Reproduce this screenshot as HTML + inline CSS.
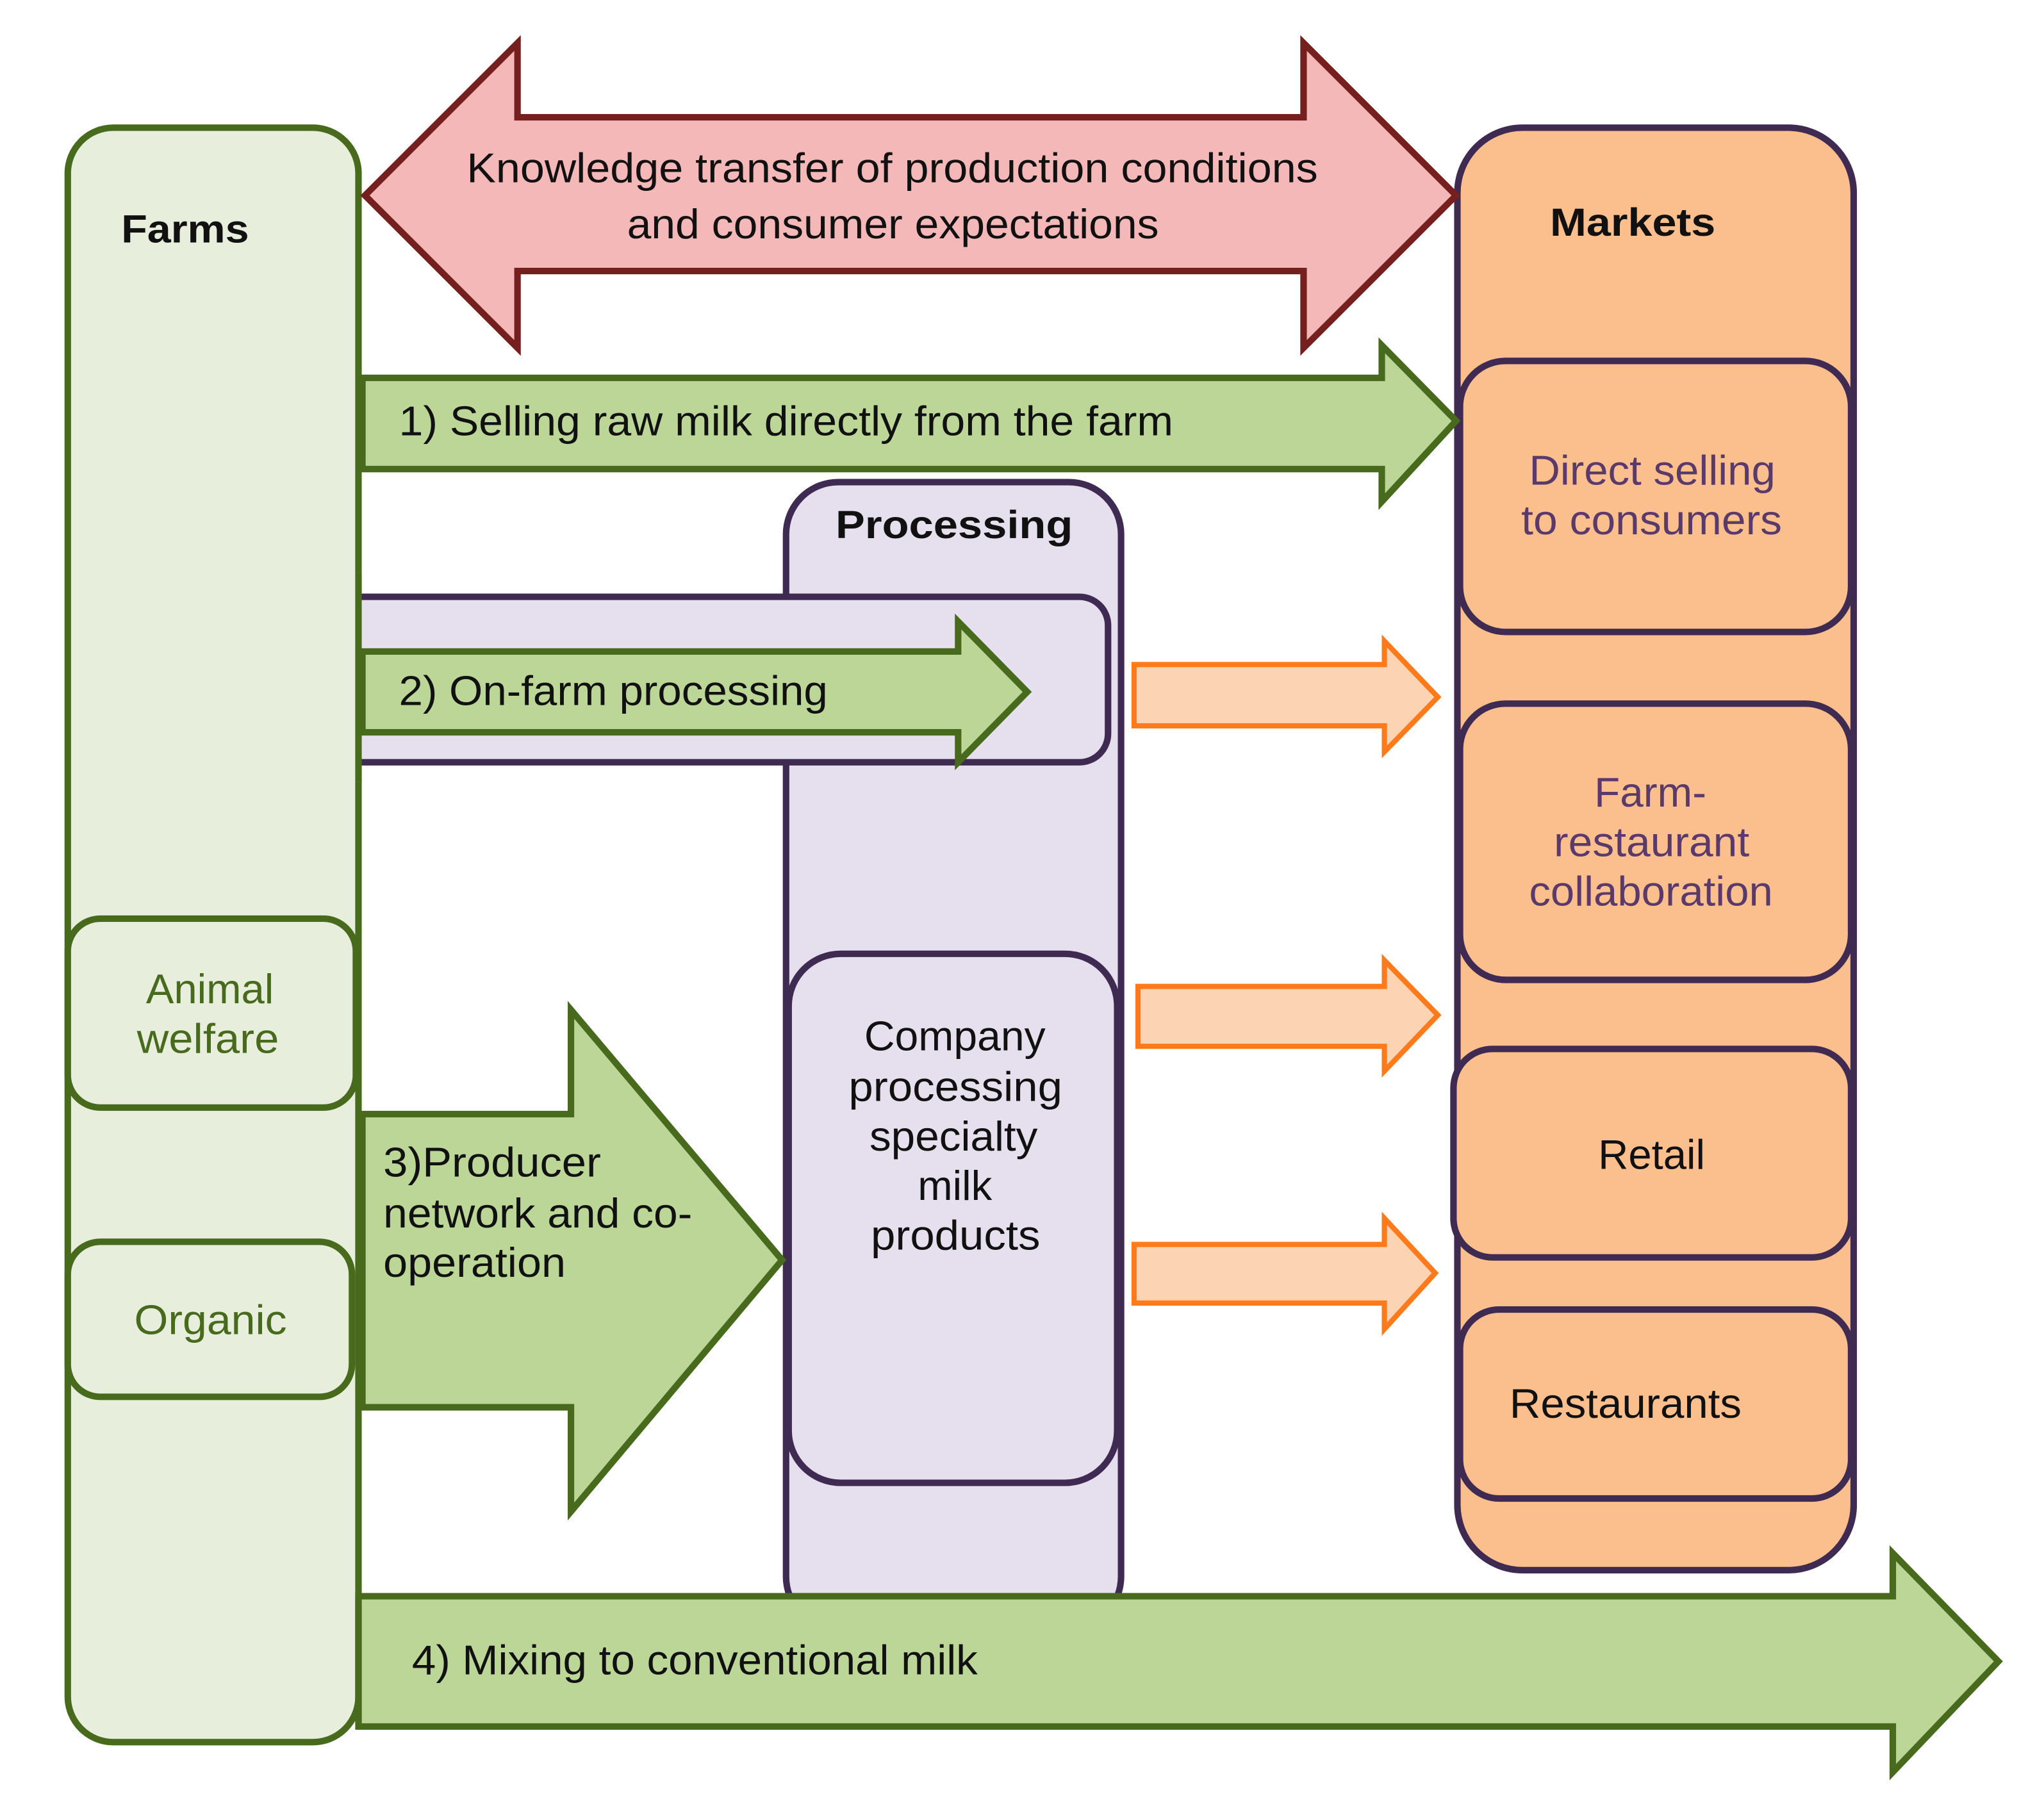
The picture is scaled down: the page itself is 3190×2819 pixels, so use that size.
<!DOCTYPE html>
<html><head><meta charset="utf-8"><style>
html,body{margin:0;padding:0;background:#fff;}
svg{display:block;}
text{font-family:"Liberation Sans",sans-serif;}
</style></head><body>
<svg width="3190" height="2819" viewBox="0 0 1568 1386" preserveAspectRatio="none" xmlns="http://www.w3.org/2000/svg">
<rect x="0" y="0" width="1568" height="1386" fill="#fff"/>
<rect x="52" y="98" width="223" height="1239" rx="35" fill="#e8eedc" stroke="#476a1c" stroke-width="5"/>
<rect x="52" y="705" width="221" height="145" rx="25" fill="#e8eedc" stroke="#476a1c" stroke-width="5"/>
<rect x="52" y="953" width="218" height="119" rx="25" fill="#e8eedc" stroke="#476a1c" stroke-width="5"/>
<rect x="1118" y="98" width="304" height="1107" rx="50" fill="#fbbf8e" stroke="#3f2a52" stroke-width="5"/>
<rect x="1120" y="277" width="300" height="208" rx="35" fill="#fbbf8e" stroke="#3f2a52" stroke-width="5"/>
<rect x="1120" y="540" width="300" height="212" rx="35" fill="#fbbf8e" stroke="#3f2a52" stroke-width="5"/>
<rect x="1115" y="805" width="305" height="160" rx="30" fill="#fbbf8e" stroke="#3f2a52" stroke-width="5"/>
<rect x="1120" y="1005" width="300" height="145" rx="30" fill="#fbbf8e" stroke="#3f2a52" stroke-width="5"/>
<rect x="603" y="370" width="257" height="880" rx="40" fill="#e6dfed" stroke="#3f2a52" stroke-width="5"/>
<rect x="250" y="458" width="600" height="127" rx="22" fill="#e6dfed" stroke="#3f2a52" stroke-width="5"/>
<rect x="605" y="732" width="252" height="406" rx="40" fill="#e6dfed" stroke="#3f2a52" stroke-width="5"/>
<rect x="240" y="440" width="36" height="160" fill="#e8eedc"/>
<line x1="275" y1="440" x2="275" y2="600" stroke="#476a1c" stroke-width="5"/>
<polygon points="280,150 397,33 397,90 1000,90 1000,33 1117,150 1000,267 1000,208 397,208 397,267" fill="#f5b8b8" stroke="#761f1f" stroke-width="5"/>
<polygon points="278,290 1060,290 1060,265 1117,323 1060,385 1060,360 278,360" fill="#bcd698" stroke="#476a1c" stroke-width="5"/>
<polygon points="278,500 735,500 735,477 788,531 735,585 735,562 278,562" fill="#bcd698" stroke="#476a1c" stroke-width="5"/>
<polygon points="278,855 438,855 438,775 600,967 438,1160 438,1080 278,1080" fill="#bcd698" stroke="#476a1c" stroke-width="5"/>
<polygon points="870,510 1062,510 1062,492 1103,535 1062,577 1062,557 870,557" fill="#fdd4b3" stroke="#ff7a1a" stroke-width="4"/>
<polygon points="873,757 1062,757 1062,737 1103,779 1062,822 1062,803 873,803" fill="#fdd4b3" stroke="#ff7a1a" stroke-width="4"/>
<polygon points="870,955 1062,955 1062,935 1101,977 1062,1020 1062,1000 870,1000" fill="#fdd4b3" stroke="#ff7a1a" stroke-width="4"/>
<polygon points="275,1225 1452,1225 1452,1192 1533,1275 1452,1360 1452,1325 275,1325" fill="#bcd698" stroke="#476a1c" stroke-width="5"/>
<line x1="275" y1="1228" x2="275" y2="1322" stroke="#476a1c" stroke-width="5"/>
<g font-size="32" fill="#111" lengthAdjust="spacingAndGlyphs">
<text x="358" y="140" textLength="653" lengthAdjust="spacingAndGlyphs">Knowledge transfer of production conditions</text>
<text x="481" y="183" textLength="408" lengthAdjust="spacingAndGlyphs">and consumer expectations</text>
<text x="306" y="334" textLength="594" lengthAdjust="spacingAndGlyphs">1) Selling raw milk directly from the farm</text>
<text x="306" y="541" textLength="329" lengthAdjust="spacingAndGlyphs">2) On-farm processing</text>
<text x="294" y="903" textLength="167" lengthAdjust="spacingAndGlyphs">3)Producer</text>
<text x="294" y="942" textLength="237" lengthAdjust="spacingAndGlyphs">network and co-</text>
<text x="294" y="980" textLength="140" lengthAdjust="spacingAndGlyphs">operation</text>
<text x="316" y="1285" textLength="434" lengthAdjust="spacingAndGlyphs">4) Mixing to conventional milk</text>
<text x="663" y="806" textLength="139" lengthAdjust="spacingAndGlyphs">Company</text>
<text x="651" y="845" textLength="164" lengthAdjust="spacingAndGlyphs">processing</text>
<text x="667" y="883" textLength="129" lengthAdjust="spacingAndGlyphs">specialty</text>
<text x="704" y="921" textLength="57" lengthAdjust="spacingAndGlyphs">milk</text>
<text x="668" y="959" textLength="130" lengthAdjust="spacingAndGlyphs">products</text>
<text x="1226" y="897" textLength="82" lengthAdjust="spacingAndGlyphs">Retail</text>
<text x="1158" y="1088" textLength="178" lengthAdjust="spacingAndGlyphs">Restaurants</text>
</g>
<g font-size="32" fill="#5a3a6a">
<text x="1173" y="372" textLength="189" lengthAdjust="spacingAndGlyphs">Direct selling</text>
<text x="1167" y="410" textLength="200" lengthAdjust="spacingAndGlyphs">to consumers</text>
<text x="1223" y="619" textLength="86" lengthAdjust="spacingAndGlyphs">Farm-</text>
<text x="1192" y="657" textLength="150" lengthAdjust="spacingAndGlyphs">restaurant</text>
<text x="1173" y="695" textLength="187" lengthAdjust="spacingAndGlyphs">collaboration</text>
</g>
<g font-size="32" fill="#476a1c">
<text x="112" y="770" textLength="98" lengthAdjust="spacingAndGlyphs">Animal</text>
<text x="105" y="808" textLength="109" lengthAdjust="spacingAndGlyphs">welfare</text>
<text x="103" y="1024" textLength="117" lengthAdjust="spacingAndGlyphs">Organic</text>
</g>
<g font-size="30" font-weight="bold" fill="#111">
<text x="93" y="186" textLength="98" lengthAdjust="spacingAndGlyphs">Farms</text>
<text x="1189" y="181" textLength="127" lengthAdjust="spacingAndGlyphs">Markets</text>
<text x="641" y="413" textLength="182" lengthAdjust="spacingAndGlyphs">Processing</text>
</g>
</svg>
</body></html>
